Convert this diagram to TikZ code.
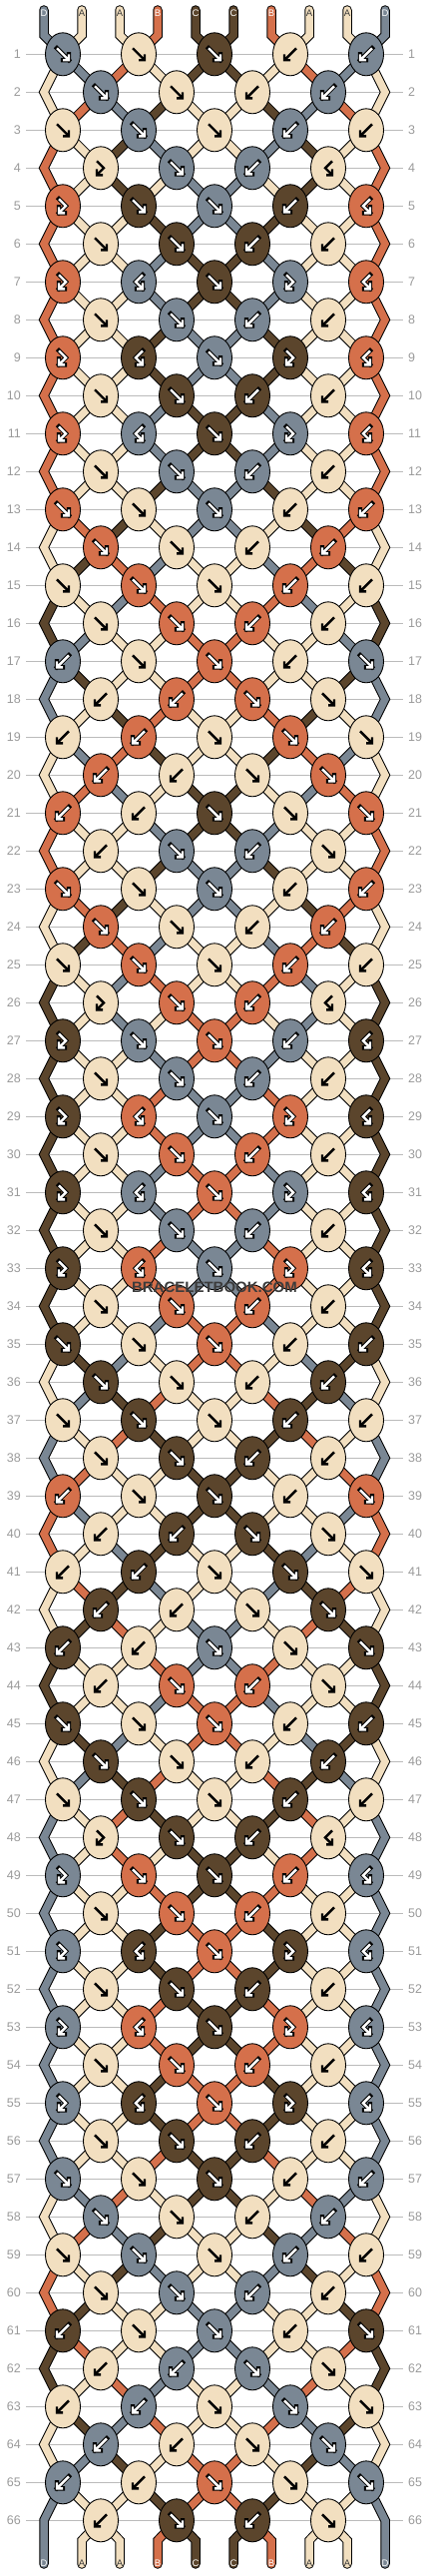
\documentclass[tikz,border=0pt]{standalone}
\usepackage{fontspec}
\setmainfont{Liberation Sans}
\usepackage{xstring}
\usepackage{tikz}
\usetikzlibrary{shapes.geometric}
\usetikzlibrary{positioning}

\definecolor{colA}{HTML}{F2DFC0}
\definecolor{colB}{HTML}{D5704B}
\definecolor{colC}{HTML}{5B452C}
\definecolor{colD}{HTML}{7A8794}
\colorlet{arrA}{black}
\colorlet{arrB}{white}
\colorlet{arrC}{white}
\colorlet{arrD}{white}
\colorlet{rimA}{colA}
\colorlet{rimB}{black}
\colorlet{rimC}{black}
\colorlet{rimD}{black}
\definecolor{labA}{HTML}{3A3A3A}
\colorlet{labB}{white}
\colorlet{labC}{white}
\colorlet{labD}{white}
\definecolor{rowgray}{HTML}{BBBBBB}
\definecolor{numgray}{HTML}{9A9A9A}
\definecolor{markgray}{HTML}{3C3C3C}

\pgfdeclarelayer{back}
\pgfdeclarelayer{mid}
\pgfsetlayers{back,mid,main}

\def\symf{(-6,-6) -- (6,6) (6,0) -- (6,6) -- (0,6)}
\def\symb{(6,-6) -- (-6,6) (-6,0) -- (-6,6) -- (0,6)}
\def\symF{(-4,-7) -- (3,0) -- (-4,7) (-4,1) -- (-4,7) -- (2,7)}
\def\symB{(4,-7) -- (-3,0) -- (4,7) (4,1) -- (4,7) -- (-2,7)}

\newcommand\strandrows{%
  \foreach \r in {1,...,66}{
    \pgfmathtruncatemacro\rp{\r-1}
    \pgfmathtruncatemacro\rpp{\r-2}
    \ifodd\r\relax \def\nk{5}\else \def\nk{4}\fi
    \foreach \c in {1,...,\nk}{
      \ifodd\r\relax
        \pgfmathtruncatemacro\p{2*\c-2}
        \pgfmathtruncatemacro\cl{\c-1}
        \pgfmathtruncatemacro\cr{\c==5 ? 0 : \c}
      \else
        \pgfmathtruncatemacro\p{2*\c-1}
        \edef\cl{\c}
        \pgfmathtruncatemacro\cr{\c+1}
      \fi
      \pgfmathtruncatemacro\q{\p+1}
      \edef\Lc{col\csname inL-\r-\c\endcsname}
      \edef\Rc{col\csname inR-\r-\c\endcsname}
      \ifnum\r=1
        \draw[strandpass=\Lc] (top-\p) -- (bend-\p) -- (k-\r-\c.center);
        \draw[strandpass=\Rc] (top-\q) -- (bend-\q) -- (k-\r-\c.center);
      \else
        \ifnum\cl=0
          \draw[strandpass=\Lc] (k-\rpp-1.center) -- (edgeL-\rp) -- (k-\r-\c.center);
        \else
          \draw[strandpass=\Lc] (k-\rp-\cl.center) -- (k-\r-\c.center);
        \fi
        \ifnum\cr=0
          \draw[strandpass=\Rc] (k-\rpp-5.center) -- (edgeR-\rp) -- (k-\r-\c.center);
        \else
          \draw[strandpass=\Rc] (k-\rp-\cr.center) -- (k-\r-\c.center);
        \fi
      \fi
    }
  }
  \foreach \i in {1,...,8}{
    \pgfmathtruncatemacro\c{(\i+1)/2}
    \edef\Lc{col\csname str\i\endcsname}
    \draw[strandpass=\Lc] (k-66-\c.center) -- (heel-\i) -- (foot-\i);
  }
  \edef\Lc{col\csname str0\endcsname}
  \draw[strandpass=\Lc] (k-65-1.center) -- (edgeL-66) -- (foot-0);
  \edef\Rc{col\csname str9\endcsname}
  \draw[strandpass=\Rc] (k-65-5.center) -- (edgeR-66) -- (foot-9);
}

\begin{document}
\begin{tikzpicture}[x=1pt, y=-1pt,
    knot/.style={ellipse, draw=black, line width=0.9pt, minimum width=35pt, minimum height=43pt, inner sep=0pt},
    strandline/.style={line width=9.5pt, draw=black, line cap=round, line join=miter},
    strandfill/.style={line width=7.5pt, line cap=round, line join=miter},
    symrim/.style={line width=4.4pt, line cap=rect, line join=miter},
    symline/.style={line width=2.4pt, line cap=butt, line join=miter},
    rowline/.style={draw=rowgray, line width=1pt},
    rownum/.style={text=numgray, font=\fontsize{12.5}{14}\selectfont, inner sep=0pt},
    endlabel/.style={font=\fontsize{9.5}{10}\selectfont, inner sep=0pt},
    watermark/.style={text=markgray, font=\fontsize{15}{15}\selectfont\bfseries, inner sep=0pt}]
\useasboundingbox (0,0) rectangle (430,2580);

\foreach \i in {0,...,9}{
  \pgfmathsetmacro\sx{44+38*\i}
  \coordinate (top-\i) at (\sx,10);
  \coordinate (bend-\i) at (\sx,35.3);
  \coordinate (heel-\i) at (\sx,2544.3);
  \coordinate (foot-\i) at (\sx,2568);
}
\foreach \r in {2,4,...,66}{
  \coordinate (edgeL-\r) at (44,38*\r+16.3);
  \coordinate (edgeR-\r) at (386,38*\r+16.3);
}

\foreach \r in {1,...,66}{
  \node[rownum, anchor=east] (numL-\r) at (21,38*\r+16.3) {\r};
  \node[rownum, anchor=west] (numR-\r) at (409,38*\r+16.3) {\r};
}
\begin{pgfonlayer}{back}
  \foreach \r in {1,...,66}
    \draw[rowline, shorten <=5pt, shorten >=5pt] (numL-\r.east) -- (numR-\r.west);
\end{pgfonlayer}

\foreach \l [count=\i from 0] in {D,A,A,B,C,C,B,A,A,D}{
  \expandafter\xdef\csname str\i\endcsname{\l}
  \node[endlabel, text=lab\l] (head-\i) at (44+38*\i,13) {\l};
}

\foreach \r/\kinds in {1/fffbb,2/ffbb,3/fffbb,4/FfbB,5/FffbB,6/ffbb,7/FBfFB,8/ffbb,9/FBfFB,10/ffbb,%
11/FBfFB,12/ffbb,13/fffbb,14/ffbb,15/fffbb,16/ffbb,17/bffbf,18/bbff,19/bbfff,20/bbff,%
21/bbfff,22/bfbf,23/fffbb,24/ffbb,25/fffbb,26/FfbB,27/FffbB,28/ffbb,29/FBfFB,30/ffbb,%
31/FBfFB,32/ffbb,33/FBfFB,34/ffbb,35/fffbb,36/ffbb,37/fffbb,38/ffbb,39/bffbf,40/bbff,%
41/bbfff,42/bbff,43/bbfff,44/bfbf,45/fffbb,46/ffbb,47/fffbb,48/FfbB,49/FffbB,50/ffbb,%
51/FBfFB,52/ffbb,53/FBfFB,54/ffbb,55/FBfFB,56/ffbb,57/fffbb,58/ffbb,59/fffbb,60/ffbb,%
61/bffbf,62/bbff,63/bbfff,64/bbff,65/bbfff,66/bfbf}{
  \pgfmathsetmacro\ky{38*\r+16.3}
  \ifodd\r\relax \def\nk{5}\else \def\nk{4}\fi
  \foreach \c in {1,...,\nk}{
    \StrChar{\kinds}{\c}[\kt]
    \ifodd\r\relax
      \pgfmathtruncatemacro\p{2*\c-2}
      \pgfmathsetmacro\kx{76*\c-13}
    \else
      \pgfmathtruncatemacro\p{2*\c-1}
      \pgfmathsetmacro\kx{76*\c+25}
    \fi
    \pgfmathtruncatemacro\q{\p+1}
    \edef\Ls{\csname str\p\endcsname}
    \edef\Rs{\csname str\q\endcsname}
    \expandafter\xdef\csname inL-\r-\c\endcsname{\Ls}
    \expandafter\xdef\csname inR-\r-\c\endcsname{\Rs}
    \def\kl{0}\if\kt f\def\kl{1}\fi\if\kt F\def\kl{1}\fi
    \ifnum\kl=1 \edef\Kc{\Ls}\else \edef\Kc{\Rs}\fi
    \node[knot, fill=col\Kc] (k-\r-\c) at (\kx,\ky) {};
    \begin{scope}[shift={(k-\r-\c.center)}]
      \edef\sp{\csname sym\kt\endcsname}
      \draw[symrim, draw=rim\Kc] \sp;
      \draw[symline, draw=arr\Kc] \sp;
    \end{scope}
    \def\ks{0}\if\kt f\def\ks{1}\fi\if\kt b\def\ks{1}\fi
    \ifnum\ks=1
      \expandafter\xdef\csname str\p\endcsname{\Rs}
      \expandafter\xdef\csname str\q\endcsname{\Ls}
    \fi
  }
}

\begin{pgfonlayer}{back}
  \tikzset{strandpass/.style={strandline}}
  \strandrows
\end{pgfonlayer}
\begin{pgfonlayer}{mid}
  \tikzset{strandpass/.style={strandfill, draw=#1}}
  \strandrows
\end{pgfonlayer}

\foreach \i in {0,...,9}{
  \edef\l{\csname str\i\endcsname}
  \node[endlabel, text=lab\l] (tail-\i) at (44+38*\i,2567) {\l};
}

\node[watermark] (mark) at (215,1289) {BRACELETBOOK.COM};
\end{tikzpicture}
\end{document}
